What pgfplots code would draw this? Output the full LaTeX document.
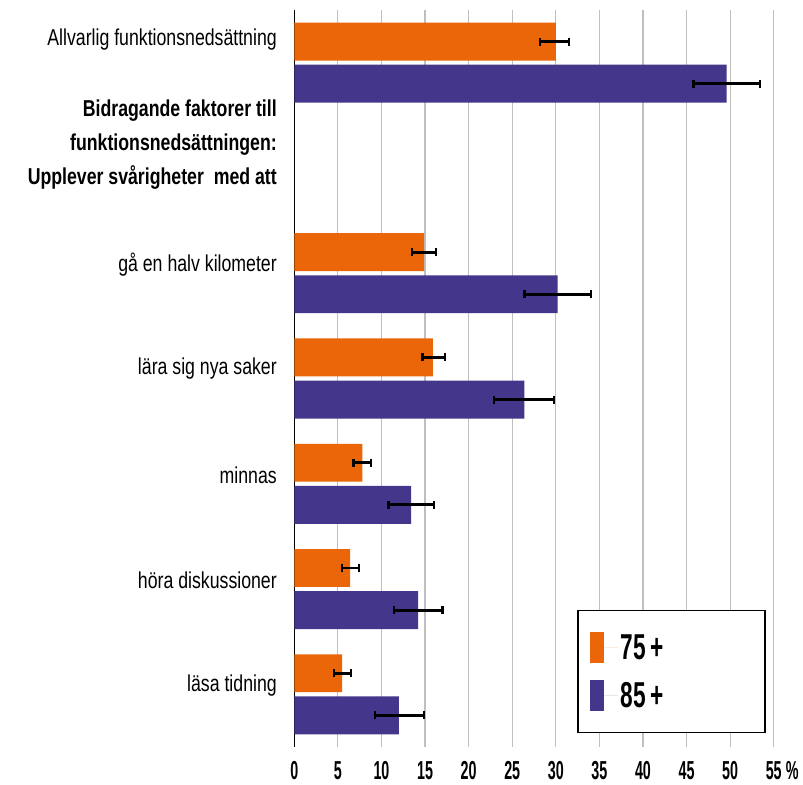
\documentclass[border=0pt]{standalone}
\usepackage{pgfplots}
\pgfplotsset{compat=1.18}
\usepackage{pgfplotstable}
\usepackage{fontspec}
\setmainfont{Liberation Sans}
\newfontfamily\catfont[FakeStretch=0.77]{Liberation Sans}
\newfontfamily\tickfont[FakeStretch=0.55]{Liberation Sans}
\newfontfamily\legfont[FakeStretch=0.63]{Liberation Sans}
\definecolor{orangeC}{RGB}{235,102,8}
\definecolor{purpleC}{RGB}{67,54,139}
\pgfplotstableread{
y o om op p pm pp
6 30.0 1.8 1.5 49.6 3.8 3.8
4 14.9 1.4 1.4 30.2 3.8 3.8
3 15.9 1.2 1.4 26.4 3.5 3.4
2 7.8 1.0 1.0 13.4 2.6 2.6
1 6.4 0.9 1.0 14.2 2.8 2.8
0 5.5 0.9 1.0 12.0 2.7 2.9
}\data
\pgfplotsset{
  myerr/.style={
    error bars/.cd,
      x dir=both, x explicit,
      error mark=|,
      error bar style={draw=black, line width=2.8bp, solid},
      error mark options={draw=black, line width=2.2bp, mark size=4bp, solid},
  },
}
\begin{document}
\begin{tikzpicture}
\begin{axis}[
 scale only axis, width=479.4bp, height=737bp,
 xmin=0, xmax=55, ymin=-0.5, ymax=6.5,
 axis lines*=left,
 x axis line style={draw=none},
 y axis line style={line width=1.5bp, black},
 xmajorgrids, grid style={line width=1.2bp, color=black!25},
 major tick length=0pt,
 xtick={0,5,...,55},
 xticklabels={0,5,10,15,20,25,30,35,40,45,50,55\rlap{\,\%}},
 xticklabel style={font=\tickfont\bfseries\fontsize{26bp}{26bp}\selectfont, yshift=-11bp},
 ytick={0.08,1.08,2.08,3.09,4.08,5.22,6.22},
 yticklabels={läsa tidning, höra diskussioner, minnas, lära sig nya saker, gå en halv kilometer, {\bfseries Bidragande faktorer till\\\bfseries funktionsnedsättningen:\\\bfseries Upplever svårigheter\ \ med att}, Allvarlig funktionsnedsättning},
 yticklabel style={font=\catfont\fontsize{23bp}{34bp}\selectfont, align=right, xshift=-14bp},
 xbar, bar width=0.36,
 clip=false,
 legend cell align=left,
 legend image code/.code={\fill[#1] (0bp,-15.5bp) rectangle (14bp,15.5bp); \path (0bp,0bp) -- (28bp,0bp);},
 legend style={at={(rel axis cs:0.59,0.186)}, anchor=north west, draw=black, line width=1.5bp,
   font=\legfont\bfseries\fontsize{36bp}{36bp}\selectfont,
   inner xsep=12bp, inner ysep=21bp, row sep=15bp,
   nodes={inner sep=3bp, text width=129bp}},
]
\addplot[fill=orangeC, draw=none, bar shift=0.2, myerr]
  table[x=o, y=y, x error plus=op, x error minus=om] {\data};
\addlegendentry{75\hspace{4bp}+}
\addplot[fill=purpleC, draw=none, bar shift=-0.2, myerr]
  table[x=p, y=y, x error plus=pp, x error minus=pm] {\data};
\addlegendentry{85\hspace{4bp}+}
\path ([shift={(-294.3bp,-38bp)}]rel axis cs:0,0) rectangle ([shift={(29.3bp,10bp)}]rel axis cs:1,1);
\end{axis}
\end{tikzpicture}
\end{document}
